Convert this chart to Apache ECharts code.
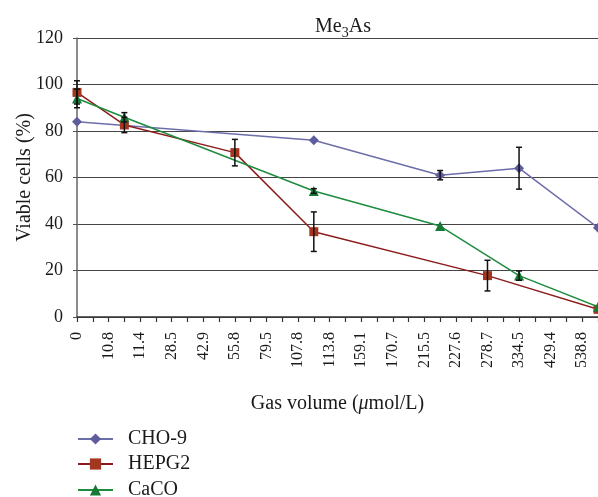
<!DOCTYPE html>
<html><head><meta charset="utf-8">
<script src="https://cdn.jsdelivr.net/npm/echarts@6/dist/echarts.min.js"></script>
<style>html,body{margin:0;padding:0;background:#fff}#c{width:598px;height:497px}</style>
</head><body><div id="c"></div>
<script>
// Tick labels shown on the x axis (every other category is unlabelled)
const xLabels = ['0','10.8','11.4','28.5','42.9','55.8','79.5','107.8','113.8','159.1','170.7','215.5','227.6','278.7','334.5','429.4','538.8'];
// Series: [category index, viable cells %]
const cho9  = [[0,84],[15,76],[23,61],[28,64],[33,38.4]];
const hepg2 = [[0,96.6],[3,82.6],[10,70.7],[15,36.7],[26,17.8],[33,3.3]];
const caco  = [[0,94],[3,85.9],[15,54.2],[23,39.1],[28,17.8],[33,4.4]];
// Error bars: [category index, value, ± error]
const cho9Err  = [[23,61,2],[28,64,9]];
const hepg2Err = [[0,96.6,5],[3,82.6,3.3],[10,70.7,5.7],[15,36.7,8.5],[26,17.8,6.6]];
const cacoErr  = [[0,94,4],[3,85.9,2],[15,54.2,1],[28,17.8,2]];
const yTicks = [0,20,40,60,80,100,120];
const seriesNames = ['CHO-9', 'HEPG2', 'CaCO'];

const cats = [];
for (let i = 0; i < xLabels.length; i++) { cats.push(xLabels[i]); if (i < xLabels.length - 1) cats.push(' ' + i); }
cats.push(' end');

const serif = 'Liberation Serif';
const ink = '#1a1a1a';
function errSeries(data) {
  return {
    type: 'custom', z: 10, silent: true,
    data: data,
    renderItem: function (params, api) {
      const x = api.value(0), v = api.value(1), e = api.value(2);
      const top = api.coord([x, v + e]), bot = api.coord([x, v - e]);
      const w = 3;
      const st = { stroke: '#111', lineWidth: 1.5 };
      return { type: 'group', children: [
        { type: 'line', shape: { x1: top[0], y1: top[1], x2: bot[0], y2: bot[1] }, style: st },
        { type: 'line', shape: { x1: top[0]-w, y1: top[1], x2: top[0]+w, y2: top[1] }, style: st },
        { type: 'line', shape: { x1: bot[0]-w, y1: bot[1], x2: bot[0]+w, y2: bot[1] }, style: st }
      ]};
    }
  };
}
function legendFor(name, top) {
  return {
    orient: 'vertical', left: 72, top: top, itemWidth: 35, itemHeight: 14,
    textStyle: { fontFamily: serif, fontSize: 20, color: ink, padding: [0, 0, 0, 10] },
    data: [name]
  };
}

const chart = echarts.init(document.getElementById('c'));
chart.setOption({
  animation: false,
  title: {
    text: 'Me{s|3}As', left: 338, top: 9, textAlign: 'center',
    textStyle: {
      fontFamily: serif, fontSize: 20, fontWeight: 'normal', color: ink, lineHeight: 26,
      rich: { s: { fontFamily: serif, fontSize: 14, color: ink, lineHeight: 26, verticalAlign: 'bottom', padding: [6, 0, 0, 0] } }
    }
  },
  legend: [legendFor(seriesNames[0], 424), legendFor(seriesNames[1], 449), legendFor(seriesNames[2], 475)],
  grid: { left: 77, right: 0, top: 38, bottom: 180, containLabel: false, outerBoundsMode: 'none' },
  xAxis: {
    type: 'category', data: cats, boundaryGap: false,
    name: 'Gas volume ({i|μ}mol/L)', nameLocation: 'middle', nameGap: 77,
    nameTextStyle: { fontFamily: serif, fontSize: 20, color: ink, rich: { i: { fontFamily: serif, fontSize: 20, fontStyle: 'italic', color: ink } } },
    axisLine: { lineStyle: { color: '#333', width: 1.5 } },
    axisTick: { show: true, interval: 0, length: 5, lineStyle: { color: '#333', width: 1.2 } },
    axisLabel: {
      interval: 0, rotate: 90, margin: 15, fontFamily: serif, fontSize: 16, color: ink,
      formatter: function (v) { return v.charAt(0) === ' ' ? '' : v; }
    },
    splitLine: { show: false }
  },
  yAxis: {
    type: 'value', min: 0, max: 120, interval: 20,
    name: 'Viable cells (%)', nameLocation: 'middle', nameGap: 42, nameMoveOverlap: false,
    nameTextStyle: { fontFamily: serif, fontSize: 20, color: ink },
    axisLine: { show: true, lineStyle: { color: '#666', width: 1.5 } },
    axisTick: { show: true, length: 4, lineStyle: { color: '#555' } },
    axisLabel: { fontFamily: serif, fontSize: 18, color: ink, margin: 14,
      formatter: function (v) { return yTicks.indexOf(v) >= 0 ? String(v) : ''; } },
    splitLine: { show: true, lineStyle: { color: '#444', width: 1.2 } }
  },
  series: [
    { name: seriesNames[0], type: 'line', data: cho9, symbol: 'diamond', symbolSize: 10,
      lineStyle: { color: '#6d6daa', width: 1.5 }, itemStyle: { color: '#5e5e9e' }, z: 3 },
    { name: seriesNames[1], type: 'line', data: hepg2, symbol: 'rect', symbolSize: 9,
      lineStyle: { color: '#8c1c1c', width: 1.5 }, itemStyle: { color: '#a3361f' }, z: 4 },
    { name: seriesNames[2], type: 'line', data: caco, symbol: 'triangle', symbolSize: 10,
      lineStyle: { color: '#1e8c3e', width: 1.5 }, itemStyle: { color: '#157a35' }, z: 5 },
    errSeries(cho9Err), errSeries(hepg2Err), errSeries(cacoErr)
  ]
});
</script></body></html>
